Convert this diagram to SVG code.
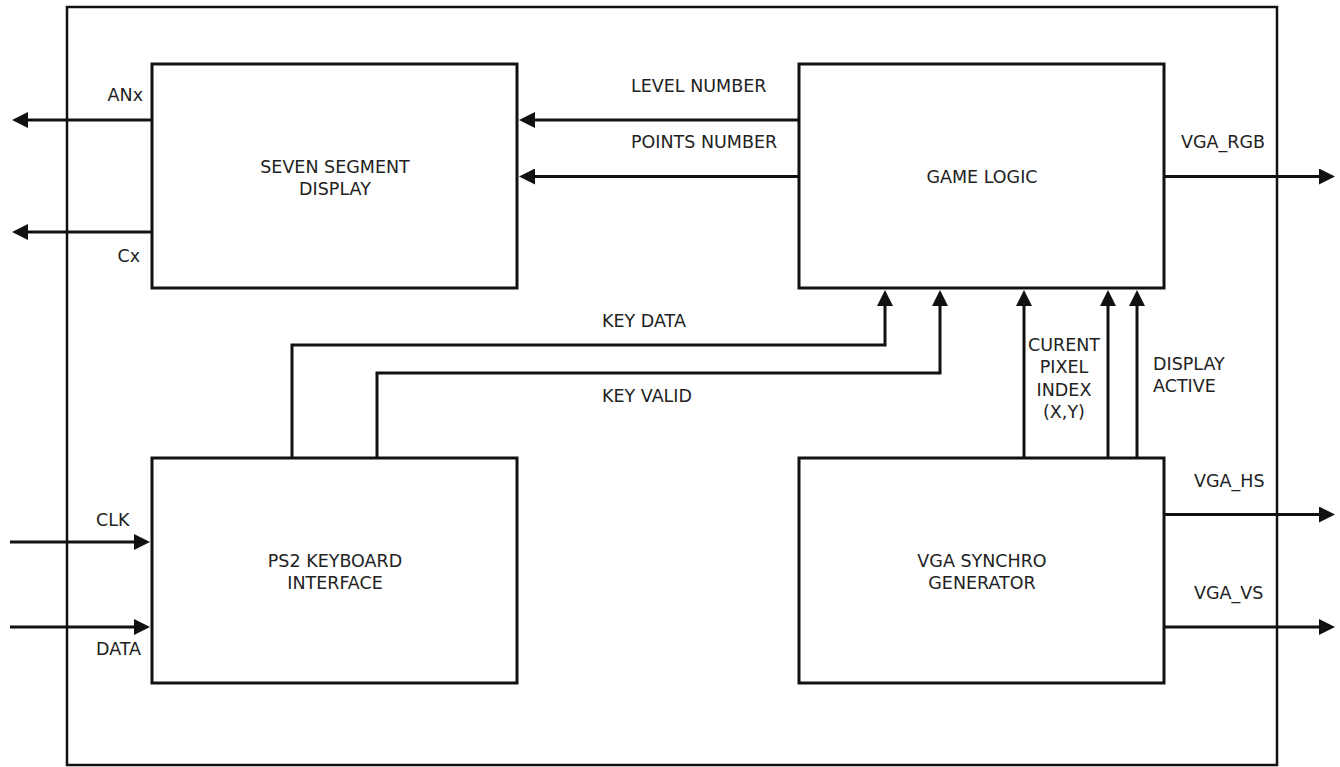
<svg xmlns="http://www.w3.org/2000/svg" width="1340" height="767" viewBox="0 0 1340 767">
<style>
.box{fill:#fff;stroke:#111;stroke-width:3}
.outer{fill:none;stroke:#111;stroke-width:2.5}
.wire{fill:none;stroke:#111;stroke-width:3}
.t{font-family:"DejaVu Sans",sans-serif;font-size:17.5px;fill:#222}
.c{text-anchor:middle}
.e{text-anchor:end}
</style>
<defs>
<marker id="ah" markerUnits="userSpaceOnUse" markerWidth="16" markerHeight="16" refX="6" refY="8" orient="auto">
<path d="M0,0 L16,8 L0,16 z" fill="#111"/>
</marker>
</defs>
<rect class="outer" x="67" y="7" width="1210" height="758"/>
<g id="seven-segment">
<rect class="box" x="152" y="64" width="365" height="224"/>
<text class="t c" x="335" y="173">SEVEN SEGMENT</text>
<text class="t c" x="335" y="195">DISPLAY</text>
</g>
<g id="game-logic">
<rect class="box" x="799" y="64" width="365" height="224"/>
<text class="t c" x="982" y="183">GAME LOGIC</text>
</g>
<g id="ps2-keyboard">
<rect class="box" x="152" y="458" width="365" height="225"/>
<text class="t c" x="335" y="567">PS2 KEYBOARD</text>
<text class="t c" x="335" y="589">INTERFACE</text>
</g>
<g id="vga-synchro">
<rect class="box" x="799" y="458" width="365" height="225"/>
<text class="t c" x="982" y="567">VGA SYNCHRO</text>
<text class="t c" x="982" y="589">GENERATOR</text>
</g>
<g id="connectors">
<line class="wire" x1="152" y1="120" x2="22" y2="120" marker-end="url(#ah)"/>
<line class="wire" x1="152" y1="232" x2="22" y2="232" marker-end="url(#ah)"/>
<line class="wire" x1="799" y1="120" x2="529" y2="120" marker-end="url(#ah)"/>
<line class="wire" x1="799" y1="176.5" x2="529" y2="176.5" marker-end="url(#ah)"/>
<line class="wire" x1="1164" y1="176.5" x2="1325" y2="176.5" marker-end="url(#ah)"/>
<path class="wire" d="M292,458 V345 H885 V300" marker-end="url(#ah)"/>
<path class="wire" d="M377,458 V373 H940 V300" marker-end="url(#ah)"/>
<path class="wire" d="M1024,458 V300" marker-end="url(#ah)"/>
<path class="wire" d="M1108,458 V300" marker-end="url(#ah)"/>
<path class="wire" d="M1137,458 V300" marker-end="url(#ah)"/>
<line class="wire" x1="1164" y1="514.5" x2="1325" y2="514.5" marker-end="url(#ah)"/>
<line class="wire" x1="1164" y1="627" x2="1325" y2="627" marker-end="url(#ah)"/>
<line class="wire" x1="10" y1="542" x2="140" y2="542" marker-end="url(#ah)"/>
<line class="wire" x1="10" y1="627" x2="140" y2="627" marker-end="url(#ah)"/>
<text class="t e" x="143" y="100.5">ANx</text>
<text class="t e" x="140" y="262">Cx</text>
<text class="t" x="631" y="92">LEVEL NUMBER</text>
<text class="t" x="631" y="148">POINTS NUMBER</text>
<text class="t" x="1181" y="148">VGA_RGB</text>
<text class="t" x="602" y="327">KEY DATA</text>
<text class="t" x="602" y="402">KEY VALID</text>
<text class="t c" x="1064" y="351">CURENT</text>
<text class="t c" x="1064" y="373">PIXEL</text>
<text class="t c" x="1064" y="396">INDEX</text>
<text class="t c" x="1064" y="418">(X,Y)</text>
<text class="t" x="1153" y="370">DISPLAY</text>
<text class="t" x="1153" y="392">ACTIVE</text>
<text class="t" x="1194" y="487">VGA_HS</text>
<text class="t" x="1194" y="599">VGA_VS</text>
<text class="t" x="96" y="526">CLK</text>
<text class="t" x="96" y="655">DATA</text>
</g>
</svg>
